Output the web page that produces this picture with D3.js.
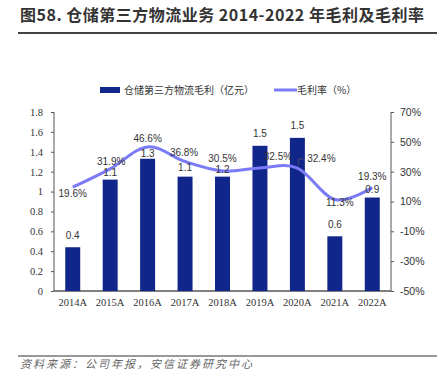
<!DOCTYPE html>
<html>
<head>
<meta charset="utf-8">
<style>
body { margin: 0; background: #fff; }
svg { display: block; }
.title { font-family: "Noto Sans CJK SC", sans-serif; font-weight: bold; font-size: 16px; letter-spacing: 0.5px; fill: #333; }
.axis text { font-family: "Liberation Serif", "DejaVu Serif", serif; font-size: 10.5px; fill: #333; }
.axis.right text { font-family: "Liberation Sans", Arial, sans-serif; font-size: 10.5px; }
.lbl { font-family: "Liberation Sans", Arial, sans-serif; font-size: 10px; fill: #333; }
.legend text { font-family: "Noto Sans CJK SC", sans-serif; font-size: 10px; fill: #333; }
.source { font-family: "Noto Sans CJK SC", sans-serif; font-size: 11px; letter-spacing: 2px; fill: #666; font-style: italic; }
</style>
</head>
<body>
<svg width="437" height="385"></svg>
<script src="https://d3js.org/d3.v7.min.js"></script>
<script>
// data
var years = ["2014A", "2015A", "2016A", "2017A", "2018A", "2019A", "2020A", "2021A", "2022A"];
var profit = [0.44, 1.12, 1.33, 1.15, 1.15, 1.46, 1.54, 0.55, 0.94];
var profitLabels = ["0.4", "1.1", "1.3", "1.1", "1.2", "1.5", "1.5", "0.6", "0.9"];
var margin = [19.6, 31.9, 46.6, 36.8, 30.5, 32.5, 32.4, 11.3, 19.3];
var leftTicks = [0, 0.2, 0.4, 0.6, 0.8, 1, 1.2, 1.4, 1.6, 1.8];
var rightTicks = [-50, -30, -10, 10, 30, 50, 70];

var svg = d3.select("svg");

var x = d3.scaleBand().domain(years).range([54, 391]).paddingInner(0.6).paddingOuter(0.3);
var y = d3.scaleLinear().domain([0, 1.8]).range([291, 112]);
var y2 = d3.scaleLinear().domain([-50, 70]).range([291, 112]);

// title
svg.append("text").attr("class", "title").attr("x", 20).attr("y", 21)
  .text("图58. 仓储第三方物流业务 2014-2022 年毛利及毛利率");
svg.append("line").attr("x1", 18).attr("x2", 437).attr("y1", 33).attr("y2", 33)
  .attr("stroke", "#444").attr("stroke-width", 2);

// axes
var gl = svg.append("g").attr("class", "axis").attr("transform", "translate(54,0)")
  .call(d3.axisLeft(y).tickValues(leftTicks).tickSize(3).tickPadding(8).tickFormat(d3.format("~g")));
var gr = svg.append("g").attr("class", "axis right").attr("transform", "translate(391,0)")
  .call(d3.axisRight(y2).tickValues(rightTicks).tickSize(3).tickPadding(6).tickFormat(function(d) { return d + "%"; }));
var gx = svg.append("g").attr("class", "axis").attr("transform", "translate(0,291)")
  .call(d3.axisBottom(x).tickSize(0).tickPadding(8));
gx.select(".domain").attr("d", "M54,0H391").attr("stroke", "#333").attr("stroke-width", 1.3);
svg.selectAll(".axis .domain").attr("stroke", "#555");
svg.selectAll(".axis .tick line").attr("stroke", "#555");
gl.select(".domain").attr("d", "M0,112V291");
gr.select(".domain").attr("d", "M0,112V291");

// bars
svg.append("g").selectAll("rect").data(years).join("rect")
  .attr("x", function(d) { return x(d); })
  .attr("width", x.bandwidth())
  .attr("y", function(d, i) { return y(profit[i]); })
  .attr("height", function(d, i) { return y(0) - y(profit[i]); })
  .attr("fill", "#10268A");

// line
var line = d3.line()
  .x(function(d, i) { return x(years[i]) + x.bandwidth() / 2; })
  .y(function(d) { return y2(d); })
  .curve(d3.curveCardinal.tension(0));
svg.append("path").datum(margin).attr("d", line)
  .attr("fill", "none").attr("stroke", "#7B7BF7").attr("stroke-width", 3);

// bar labels (label offsets as placed in the original)
var barOffs = [-8, -4, -2, -6, -3.5, -8.5, -8.5, -8, -5];
svg.append("g").selectAll("text").data(years).join("text")
  .attr("class", "lbl").attr("text-anchor", "middle")
  .attr("x", function(d) { return x(d) + x.bandwidth() / 2; })
  .attr("y", function(d, i) { return y(profit[i]) + barOffs[i]; })
  .text(function(d, i) { return profitLabels[i]; });

// margin labels
var offs = [[0, 9.5], [1, -4], [0, -5], [-1, -6], [0, -9], [18, -8], [24, -6], [5, 6], [0, -7.5]];
svg.append("g").selectAll("text").data(margin).join("text")
  .attr("class", "lbl").attr("text-anchor", "middle")
  .attr("x", function(d, i) { return x(years[i]) + x.bandwidth() / 2 + offs[i][0]; })
  .attr("y", function(d, i) { return y2(d) + offs[i][1]; })
  .text(function(d) { return d.toFixed(1) + "%"; });
// leader line for 2020
var cx = x("2020A") + x.bandwidth() / 2;
svg.append("path")
  .attr("d", "M" + (cx + 1) + "," + (y2(32.4) - 3) + "V" + (y2(32.4) - 9) + "h5")
  .attr("fill", "none").attr("stroke", "#555").attr("stroke-width", 0.8);

// legend
var lg = svg.append("g").attr("class", "legend");
lg.append("rect").attr("x", 100).attr("y", 87).attr("width", 20).attr("height", 6).attr("fill", "#10268A");
lg.append("text").attr("x", 124).attr("y", 94).text("仓储第三方物流毛利（亿元）");
lg.append("line").attr("x1", 274).attr("x2", 297).attr("y1", 90).attr("y2", 90)
  .attr("stroke", "#7B7BF7").attr("stroke-width", 3);
lg.append("text").attr("x", 297).attr("y", 94).text("毛利率（%）");

// source
svg.append("line").attr("x1", 18).attr("x2", 437).attr("y1", 356).attr("y2", 356)
  .attr("stroke", "#333").attr("stroke-width", 1);
svg.append("text").attr("class", "source").attr("x", 20).attr("y", 368)
  .text("资料来源：公司年报，安信证券研究中心");
</script>
</body>
</html>
